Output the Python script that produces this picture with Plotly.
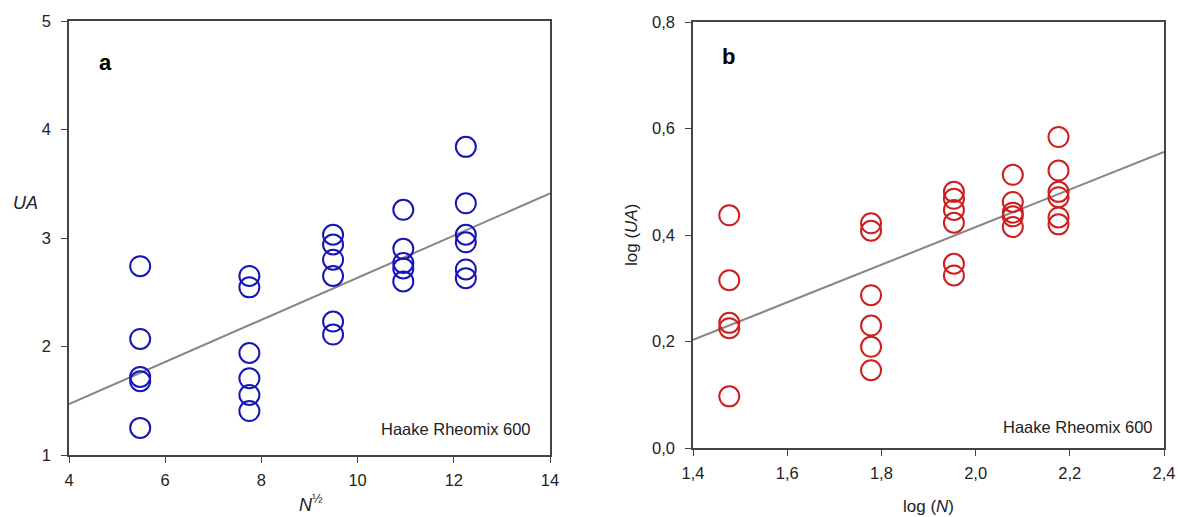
import plotly.graph_objects as go

# ---- data ----
sqrt_n_levels = [5.48, 7.75, 9.49, 10.95, 12.25]
log_n_levels = [1.477, 1.778, 1.954, 2.079, 2.176]

ua_n30 = [2.74, 2.07, 1.72, 1.68, 1.25]
ua_n60 = [2.65, 2.545, 1.94, 1.707, 1.553, 1.405]
ua_n90 = [3.03, 2.94, 2.80, 2.65, 2.23, 2.11]
ua_n120 = [3.26, 2.90, 2.77, 2.72, 2.60]
ua_n150 = [3.84, 3.32, 3.03, 2.96, 2.71, 2.63]

logua_n30 = [0.437, 0.315, 0.235, 0.225, 0.097]
logua_n60 = [0.422, 0.408, 0.287, 0.230, 0.190, 0.146]
logua_n90 = [0.481, 0.468, 0.447, 0.423, 0.346, 0.324]
logua_n120 = [0.513, 0.462, 0.442, 0.435, 0.415]
logua_n150 = [0.584, 0.521, 0.481, 0.471, 0.433, 0.420]

fit_a_x = [4, 14]
fit_a_y = [1.47, 3.41]
fit_b_x = [1.4, 2.4]
fit_b_y = [0.203, 0.556]

label_text = "Haake Rheomix 600"

# ---- build ----
groups_a = [ua_n30, ua_n60, ua_n90, ua_n120, ua_n150]
groups_b = [logua_n30, logua_n60, logua_n90, logua_n120, logua_n150]
ax, ay = [], []
for xv, g in zip(sqrt_n_levels, groups_a):
    ax += [xv] * len(g)
    ay += g
bx, by = [], []
for xv, g in zip(log_n_levels, groups_b):
    bx += [xv] * len(g)
    by += g

BLUE = "#1515b8"
RED = "#cc1f1f"
GRAY = "#858585"
AXC = "#444444"
TXT = "#222222"
FONT = "Liberation Sans, Arial, sans-serif"

fig = go.Figure()
fig.add_trace(go.Scatter(x=fit_a_x, y=fit_a_y, mode="lines",
                         line=dict(color=GRAY, width=2), xaxis="x", yaxis="y",
                         showlegend=False, hoverinfo="skip"))
fig.add_trace(go.Scatter(x=ax, y=ay, mode="markers", xaxis="x", yaxis="y",
                         marker=dict(symbol="circle-open", size=20, color=BLUE,
                                     line=dict(color=BLUE, width=2)),
                         showlegend=False))
fig.add_trace(go.Scatter(x=fit_b_x, y=fit_b_y, mode="lines",
                         line=dict(color=GRAY, width=2), xaxis="x2", yaxis="y2",
                         showlegend=False, hoverinfo="skip"))
fig.add_trace(go.Scatter(x=bx, y=by, mode="markers", xaxis="x2", yaxis="y2",
                         marker=dict(symbol="circle-open", size=20, color=RED,
                                     line=dict(color=RED, width=2)),
                         showlegend=False))

W, H = 1178, 517
axis_common = dict(showgrid=False, zeroline=False, showline=True, linecolor=AXC,
                   linewidth=1.6, mirror=True, ticks="outside", ticklen=6,
                   tickcolor=AXC, tickwidth=1.3, automargin=False,
                   tickfont=dict(family=FONT, size=16.5, color=TXT))

fig.update_layout(
    template="none",
    width=W, height=H,
    margin=dict(l=0, r=0, t=0, b=0, pad=0),
    paper_bgcolor="white", plot_bgcolor="white",
    separators=",.",
    font=dict(family=FONT, color=TXT),
    xaxis=dict(domain=[69 / W, 550 / W], range=[4, 14], dtick=2, anchor="y",
               ticklabelstandoff=3, **axis_common),
    yaxis=dict(domain=[1 - 455 / H, 1 - 21 / H], range=[1, 5], dtick=1, anchor="x",
               ticklabelstandoff=7, **axis_common),
    xaxis2=dict(domain=[693 / W, 1164 / W], range=[1.4, 2.4], dtick=0.2, tickformat=".1f",
                anchor="y2", ticklabelstandoff=3, **axis_common),
    yaxis2=dict(domain=[1 - 448 / H, 1 - 22 / H], range=[0, 0.8], dtick=0.2, tickformat=".1f",
                anchor="x2", ticklabelstandoff=7, **axis_common),
)

C = dict(xanchor="center", yanchor="middle", showarrow=False)
ann = []
ann.append(dict(xref="x", yref="y", x=4.75, y=4.62, text="<b>a</b>",
                font=dict(family=FONT, size=22, color="black"), **C))
ann.append(dict(xref="x2", yref="y2", x=1.475, y=0.735, text="<b>b</b>",
                font=dict(family=FONT, size=22, color="black"), **C))
ann.append(dict(xref="x", yref="y", x=12.04, y=1.24, text=label_text,
                font=dict(family=FONT, size=16.5, color=TXT), **C))
ann.append(dict(xref="x2", yref="y2", x=2.217, y=0.04, text=label_text,
                font=dict(family=FONT, size=16.5, color=TXT), **C))
# axis titles
ann.append(dict(xref="paper", yref="paper", x=25 / W, y=1 - 203 / H, text="<i>UA</i>",
                font=dict(family=FONT, size=18, color=TXT), **C))
ann.append(dict(xref="paper", yref="paper", x=311 / W, y=1 - 503 / H,
                text="<i>N</i><sup>½</sup>",
                font=dict(family=FONT, size=18, color=TXT), **C))
ann.append(dict(xref="paper", yref="paper", x=631 / W, y=1 - 235 / H, text="log (<i>UA</i>)",
                textangle=-90, font=dict(family=FONT, size=17, color=TXT), **C))
ann.append(dict(xref="paper", yref="paper", x=929 / W, y=1 - 506 / H, text="log (<i>N</i>)",
                font=dict(family=FONT, size=17, color=TXT), **C))
fig.update_layout(annotations=ann)

fig.write_html("out.html")
